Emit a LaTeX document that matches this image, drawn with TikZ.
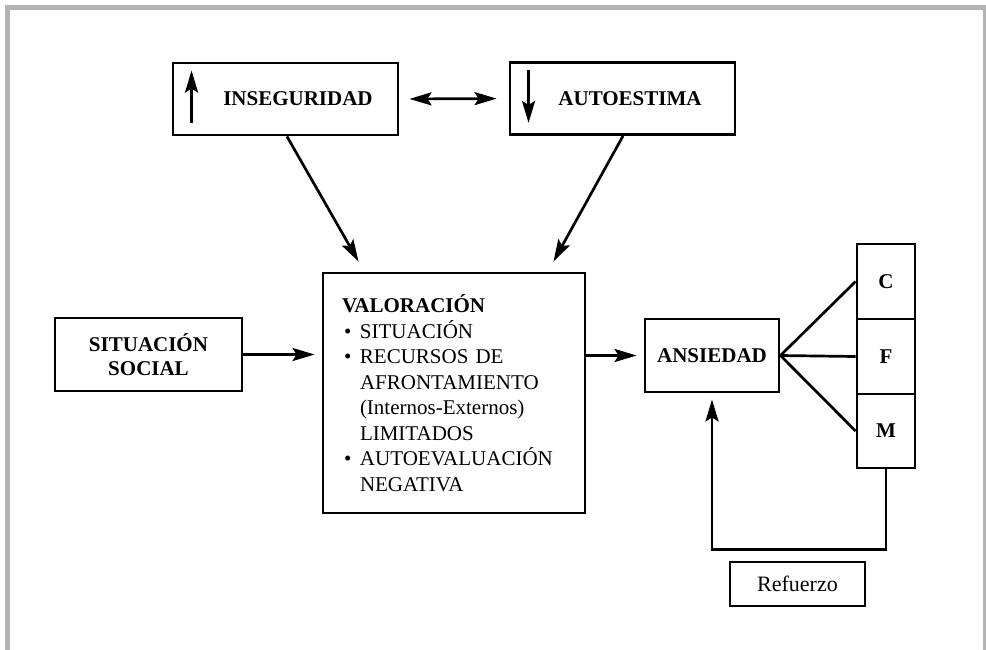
\documentclass[tikz,border=0pt]{standalone}
\usepackage{fontspec}
\setmainfont{Liberation Serif}
\usetikzlibrary{arrows.meta,calc}
\definecolor{framegray}{HTML}{B3B3B3}
\newcommand\valbul{\makebox[18pt][l]{\hspace{2pt}•}}
\newcommand\valind{\hspace*{18pt}}
\begin{document}
\begin{tikzpicture}[x=1pt,y=-1pt,
  box/.style={draw=black,line width=2.9pt,inner sep=0pt,align=center,
    font=\fontsize{21}{24}\selectfont\bfseries},
  tip/.style={-{Stealth[length=22pt,width=13pt,inset=4pt]}},
  arr/.style={line width=2.7pt,tip},
  conn/.style={line width=2.7pt},
  framestyle/.style={draw=framegray,line width=5pt,line join=miter}
]
\useasboundingbox (0,0) rectangle (986,649);
\draw[framestyle] (7.5,660) -- (7.5,7.5) -- (985.5,7.5) -- (985.5,660);

% top boxes
\node[box, minimum width=225pt, minimum height=72pt] (ins) at (285.5,99) {\hspace*{25pt}INSEGURIDAD};
\node[box, minimum width=225pt, minimum height=72pt] (aut) at (622.5,98.5) {\hspace*{15pt}AUTOESTIMA};
\draw[arr] ($(ins.south west)+(20,-13)$) -- ($(ins.north west)+(20,9)$);
\draw[arr] ($(aut.north west)+(20,9)$) -- ($(aut.south west)+(20,-13)$);
\draw[line width=2.7pt, {Stealth[length=22pt,width=13pt,inset=4pt]}-{Stealth[length=22pt,width=13pt,inset=4pt]},
  shorten <=10pt, shorten >=12pt] (ins.east) -- (aut.west);

% central box
\node[draw=black, line width=2.9pt, minimum width=262pt, minimum height=240pt,
  text width=224pt, inner xsep=19pt, inner ysep=0pt, align=left,
  font=\fontsize{21}{25.5}\selectfont] (val) at (454,393)
  {\textbf{VALORACIÓN}\\
   \valbul SITUACIÓN\\
   \valbul RECURSOS DE\\
   \valind AFRONTAMIENTO\\
   \valind (Internos-Externos)\\
   \valind LIMITADOS\\
   \valbul AUTOEVALUACIÓN\\
   \valind NEGATIVA};

\node[box, minimum width=187pt, minimum height=73pt] (sit) at (148.5,354.5) {SITUACIÓN\\SOCIAL};
\node[box, minimum width=134pt, minimum height=73pt] (ans) at (712,355.5) {ANSIEDAD};
\node[box, minimum width=58pt, minimum height=75pt] (c) at (886,281.5) {C};
\node[box, minimum width=58pt, minimum height=75pt] (f) at (886,356.5) {F};
\node[box, minimum width=58pt, minimum height=74pt] (m) at (886,431) {M};
\node[box, font=\fontsize{22}{24}\selectfont, line width=2.6pt, minimum width=135pt, minimum height=44pt] (ref) at (797.5,584) {Refuerzo};

% connectors
\draw[arr] ($(ins.south)+(1.5,0)$) -- ($(val.north west)+(37,-10)$);
\draw[arr] ($(aut.south)+(0.5,0)$) -- ($(val.north east)+(-33,-10)$);
\draw[arr, shorten >=7pt] (sit.east) -- (sit.east -| val.west);
\draw[arr, shorten >=7pt] (val.east |- ans.west) -- (ans.west);
\draw[conn] (c.west) -- (ans.east) -- (m.west);
\draw[conn] (ans.east) -- (f.west);
\draw[arr, shorten >=6pt] (m.south) -- ++(0,80) -| (ans.south);
\end{tikzpicture}
\end{document}
